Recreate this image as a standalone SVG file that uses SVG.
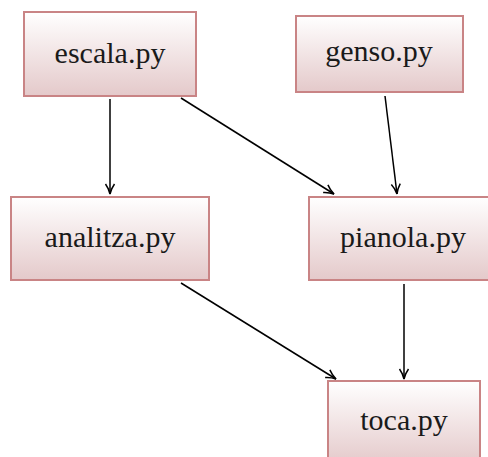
<svg xmlns="http://www.w3.org/2000/svg" width="488" height="457" viewBox="0 0 488 457">
<defs>
<linearGradient id="g" x1="0" y1="0" x2="0" y2="1">
<stop offset="0" stop-color="#ffffff"/>
<stop offset="1" stop-color="#e4c9ca"/>
</linearGradient>
<marker id="a" viewBox="0 0 12 12" refX="11" refY="6" markerWidth="12" markerHeight="12" markerUnits="userSpaceOnUse" orient="auto">
<path d="M1,1.5 Q6,5 11,6 Q6,7 1,10.5" fill="none" stroke="#000" stroke-width="1.5"/>
</marker>
</defs>
<style>
.n{fill:url(#g);stroke:#c98485;stroke-width:2}
.t{font-size:30px;fill:#1a1a1a;text-anchor:middle}
.e{stroke:#000;stroke-width:1.5;fill:none;marker-end:url(#a)}
</style>
<rect width="488" height="457" fill="#fff"/>
<g id="edges">
<line class="e" x1="110" y1="99" x2="110" y2="194"/>
<line class="e" x1="181" y1="98" x2="334" y2="194"/>
<line class="e" x1="385" y1="96" x2="397" y2="194"/>
<line class="e" x1="181" y1="283" x2="336" y2="379"/>
<line class="e" x1="404" y1="284" x2="404" y2="379"/>
</g>
<g font-family="'Liberation Serif', 'Times New Roman', serif">
<g id="escala"><rect class="n" x="24" y="12" width="172" height="84"/><text class="t" x="110" y="63">escala.py</text></g>
<g id="genso"><rect class="n" x="296" y="16" width="167" height="76"/><text class="t" x="379" y="61">genso.py</text></g>
<g id="analitza"><rect class="n" x="11" y="197" width="198" height="83"/><text class="t" x="110" y="247">analitza.py</text></g>
<g id="pianola"><rect class="n" x="309" y="197" width="180" height="83"/><text class="t" x="403" y="247">pianola.py</text></g>
<g id="toca"><rect class="n" x="328" y="381" width="152" height="84"/><text class="t" x="404" y="430">toca.py</text></g>
</g>
</svg>
